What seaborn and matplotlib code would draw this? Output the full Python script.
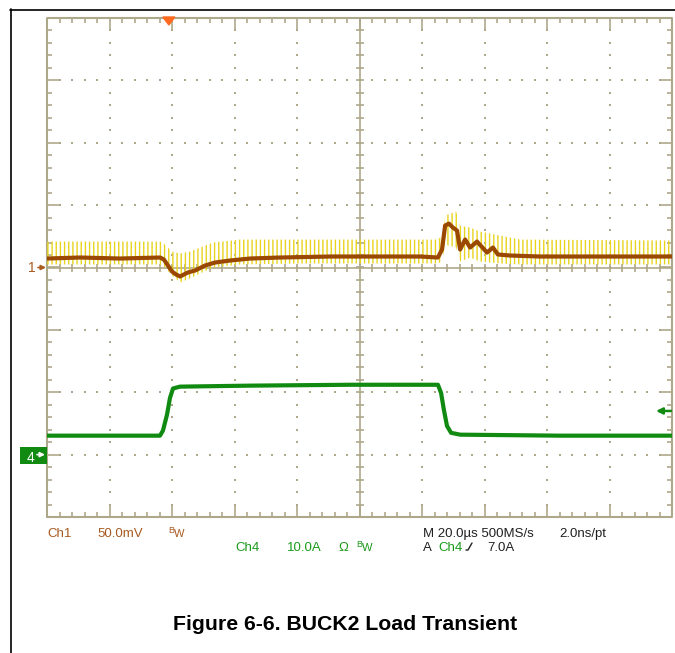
import numpy as np
import matplotlib
matplotlib.use('Agg')
import matplotlib.pyplot as plt
import seaborn as sns
from matplotlib.lines import Line2D
from matplotlib.patches import Polygon, Rectangle
from matplotlib.collections import LineCollection

sns.set_theme(style='white')
plt.rcParams['font.family'] = ['Liberation Sans', 'DejaVu Sans']
plt.rcParams['hatch.linewidth'] = 1.0

# --- 데이터 (화면에서 읽은 값) ---
# 시간축: 20us/div, 트리거는 왼쪽에서 2 div
t_ch1 = [-40, -29.4, -16.6, -3.8, -2.6, -1.3, 0, 1.3, 2.6, 3.8, 5.1, 7.4, 10.6, 13.8,
         18.6, 25, 34.6, 50.6, 66.6, 79.4, 85.1, 86.4, 87.4, 88.6, 89.9, 91.2, 92.2,
         93.8, 95.4, 97.6, 100.8, 102.7, 104.3, 108.2, 117.8, 137, 160]
ch1_mv = [7.2, 8.0, 7.2, 8.0, 6.4, 1.6, -3.2, -5.6, -7.2, -5.6, -4.0, -2.4, 1.6, 4.0,
          5.6, 7.2, 8.0, 8.8, 8.8, 8.8, 8.0, 14.4, 33.6, 35.2, 32.0, 29.6, 14.4,
          22.4, 16.0, 20.8, 12.0, 16.0, 10.4, 9.6, 8.8, 8.8, 8.8]

# 노이즈 포락선 (노란색)
t_env = [-40, -3.8, -2.6, 0, 2.6, 5.8, 9.0, 13.1, 21.8, 41, 85.1, 86.4, 87.4, 90.9,
         92.2, 95.4, 98.6, 105, 111.4, 160]
env_hi_mv = [20.8, 20.8, 19.2, 12.8, 11.2, 12.8, 16.0, 20.0, 22.4, 22.4, 22.4, 25.6,
             41.7, 44.9, 33.6, 32.0, 28.8, 25.6, 22.4, 21.6]
env_lo_mv = [2.4, 2.4, 0.8, -6.4, -12.0, -8.8, -4.8, 0.0, 2.4, 3.2, 3.2, 4.8,
             18.4, 16.0, 4.8, 8.0, 4.8, 3.2, 2.4, 2.4]

# Ch4 부하 전류
t_ch4 = [-40, -3.84, -2.9, -1.6, -0.64, 0.32, 2.56, 25, 57, 85.1, 86.1, 87.0, 88.0,
         89.3, 92.2, 124, 160]
ch4_amp = [3.04, 3.04, 3.85, 6.4, 9.1, 10.6, 10.9, 11.06, 11.2, 11.2, 9.9, 7.2, 4.6,
           3.5, 3.2, 3.04, 3.04]

CH1_SCALE = 50.0   # mV/div
CH4_SCALE = 10.0   # A/div
CH4_OFFSET = -3.0  # div
TRIG_LEVEL = 7.0   # A
TRIG_POS = -1.0    # us (마커 위치)

W, H = 675, 653
GC = '#aea88a'
BROWN = '#9a4800'
YELLOW = '#e8d41c'
GREEN = '#108a10'
TXT_BROWN = '#a85a20'
TXT_GREEN = '#1a9a1a'


def F(x, y):
    return (x / W, 1 - y / H)


fig = plt.figure(figsize=(W / 100, H / 100), dpi=100)
ax = fig.add_axes([47 / W, (H - 517) / H, 625 / W, 499 / H])
ax.set_xlim(-40, 160)
ax.set_ylim(-4, 4)
ax.axis('off')

dxp = 200 / 625   # us per px
dyp = 8 / 499     # div per px

# --- 그래티큘 ---
ax.plot([-40, 160, 160, -40, -40], [-4, -4, 4, 4, -4], color=GC, lw=1.5, clip_on=False, zorder=1)
ax.axhline(0, color=GC, lw=1.2, zorder=1)
ax.axvline(60, color=GC, lw=1.2, zorder=1)

segs = []
for xm in np.arange(-40, 160.01, 4):
    major = abs((xm + 40) % 20) < 1e-6
    ln = (13 if major else 5) * dyp
    segs.append([(xm, 4), (xm, 4 - ln)])
    segs.append([(xm, -4), (xm, -4 + ln)])
    segs.append([(xm, -4 * dyp), (xm, 4 * dyp)])
for ym in np.arange(-4, 4.01, 0.2):
    major = abs(round(ym, 3) - round(ym)) < 1e-6
    ln = (13 if major else 5) * dxp
    segs.append([(-40, ym), (-40 + ln, ym)])
    segs.append([(160, ym), (160 - ln, ym)])
    segs.append([(60 - 4 * dxp, ym), (60 + 4 * dxp, ym)])
ax.add_collection(LineCollection(segs, colors=GC, linewidths=1.2, zorder=1))

dots_x, dots_y = [], []
for xv in [-20, 0, 20, 40, 80, 100, 120, 140]:
    for yv in np.arange(-3.8, 3.81, 0.2):
        dots_x.append(xv)
        dots_y.append(yv)
for yv in [-3, -2, -1, 1, 2, 3]:
    for xv in np.arange(-36, 156.1, 4):
        dots_x.append(xv)
        dots_y.append(yv)
ax.scatter(dots_x, dots_y, s=1.6, marker='s', color=GC, linewidths=0, zorder=1)

# --- 파형 ---
env_hi = np.array(env_hi_mv) / CH1_SCALE
env_lo = np.array(env_lo_mv) / CH1_SCALE
ax.fill_between(t_env, env_lo, env_hi, facecolor='none', edgecolor=YELLOW,
                hatch='||||', linewidth=0, zorder=2)
sns.lineplot(x=t_ch1, y=np.array(ch1_mv) / CH1_SCALE, ax=ax, color=BROWN, linewidth=3.0,
             sort=False, estimator=None, zorder=3)
sns.lineplot(x=t_ch4, y=np.array(ch4_amp) / CH4_SCALE + CH4_OFFSET, ax=ax, color=GREEN,
             linewidth=3.0, sort=False, estimator=None, zorder=3)

# 트리거 마커 (상단)
ax.add_patch(Polygon([(TRIG_POS - 6 * dxp, 4 + dyp), (TRIG_POS + 6 * dxp, 4 + dyp),
                      (TRIG_POS, 4 - 7 * dyp)], closed=True, color='#ff6a20',
                     clip_on=False, zorder=5))
# 트리거 레벨 화살표 (오른쪽)
y_trig = TRIG_LEVEL / CH4_SCALE + CH4_OFFSET
ax.annotate('', xy=(160 - 16 * dxp, y_trig), xytext=(160 - 1 * dxp, y_trig),
            arrowprops=dict(arrowstyle='-|>', color=GREEN, lw=1.8, mutation_scale=9,
                            shrinkA=0, shrinkB=0),
            annotation_clip=False)

# 채널 기준 마커
fig.text(*F(28, 268), '1', color=TXT_BROWN, fontsize=10, va='center', ha='left')
ax.annotate('', xy=(-40 - 1 * dxp, 0), xytext=(-40 - 9 * dxp, 0),
            arrowprops=dict(arrowstyle='-|>', color=TXT_BROWN, lw=1.2, mutation_scale=7,
                            shrinkA=0, shrinkB=0),
            annotation_clip=False)
y4 = CH4_OFFSET
ax.add_patch(Rectangle((-40 - 27 * dxp, y4 - 9 * dyp), 27 * dxp, 17 * dyp,
                       facecolor=GREEN, edgecolor='none', clip_on=False, zorder=4))
fig.text(*F(27, 458), '4', color='white', fontsize=10, va='center', ha='left')
ax.annotate('', xy=(-40 - 2 * dxp, y4), xytext=(-40 - 10 * dxp, y4),
            arrowprops=dict(arrowstyle='-|>', color='white', lw=1.2, mutation_scale=7,
                            shrinkA=0, shrinkB=0),
            annotation_clip=False, zorder=6)

# --- 하단 설정 텍스트 ---
fs = 9.5
fig.text(*F(47, 537), 'Ch1', color=TXT_BROWN, fontsize=fs)
fig.text(*F(97, 537), '50.0mV', color=TXT_BROWN, fontsize=fs)
fig.text(*F(168, 533), 'B', color=TXT_BROWN, fontsize=6.5)
fig.text(*F(174, 537), 'W', color=TXT_BROWN, fontsize=8)
fig.text(*F(235, 551), 'Ch4', color=TXT_GREEN, fontsize=fs)
fig.text(*F(287, 551), '10.0A', color=TXT_GREEN, fontsize=fs)
fig.text(*F(338, 551), 'Ω', color=TXT_GREEN, fontsize=fs)
fig.text(*F(356, 547), 'B', color=TXT_GREEN, fontsize=6.5)
fig.text(*F(362, 551), 'W', color=TXT_GREEN, fontsize=8)
fig.text(*F(423, 537), 'M 20.0µs 500MS/s', color='#202020', fontsize=fs)
fig.text(*F(559, 537), '2.0ns/pt', color='#202020', fontsize=fs)
fig.text(*F(423, 551), 'A', color='#202020', fontsize=fs)
fig.text(*F(438, 551), 'Ch4', color=TXT_GREEN, fontsize=fs)
fig.lines.append(Line2D([466 / W, 468 / W, 472 / W], [1 - 550 / H, 1 - 550 / H, 1 - 543 / H],
                        transform=fig.transFigure, color='#202020', lw=1.0))
fig.text(*F(487, 551), '7.0A', color='#202020', fontsize=fs)

# 제목
fig.text(*F(345, 630), 'Figure 6-6. BUCK2 Load Transient', ha='center', fontsize=15.3,
         fontweight='bold', color='black')

# 외곽선
fig.lines.append(Line2D([10.5 / W, 10.5 / W], [1 - 9 / H, 0], transform=fig.transFigure,
                        color='black', lw=1.2))
fig.lines.append(Line2D([10 / W, 1], [1 - 9.5 / H, 1 - 9.5 / H], transform=fig.transFigure,
                        color='black', lw=1.2))

fig.savefig('out.png', dpi=100)
